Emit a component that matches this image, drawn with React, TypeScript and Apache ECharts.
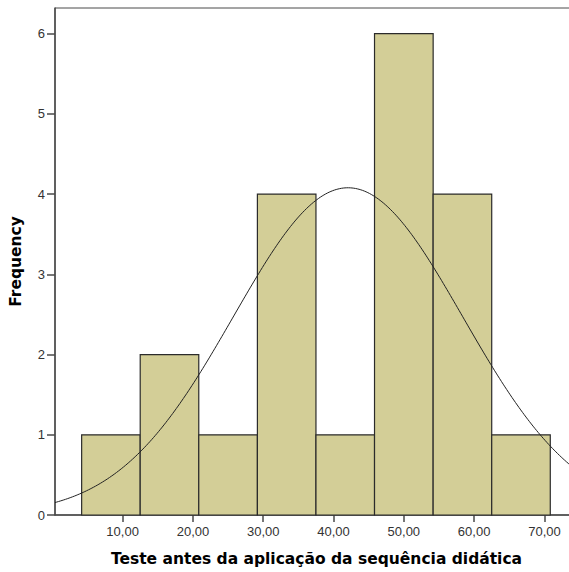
import React, { useEffect, useRef } from "react";
import * as echarts from "echarts";

// Histogram bins (lower and upper edges) and frequencies
const binStarts = [4.17, 12.5, 20.83, 29.17, 37.5, 45.83, 54.17, 62.5];
const binEnds = [12.5, 20.83, 29.17, 37.5, 45.83, 54.17, 62.5, 70.83];
const frequencies = [1, 2, 1, 4, 1, 6, 4, 1];

// Tick labels
const xTicks = [10, 20, 30, 40, 50, 60, 70];
const yTicks = [0, 1, 2, 3, 4, 5, 6];

// Fitted normal curve parameters (as shown by the curve)
const normalMean = 42.06;
const normalSd = 16.3;
const sampleN = 20;
const binWidth = 8.333;

const xName = "Teste antes da aplicação da sequência didática";
const yName = "Frequency";

export default function App() {
  const ref = useRef<HTMLDivElement>(null);
  useEffect(() => {
    if (!ref.current) return;
    const chart = echarts.init(ref.current, null, { renderer: "svg" });
    const xMin = 0.38;
    const xMax = 73.92;
    const curve: number[][] = [];
    const scale = (sampleN * binWidth) / (normalSd * Math.sqrt(2 * Math.PI));
    for (let x = xMin; x <= xMax + 1e-9; x += 0.25) {
      const z = (x - normalMean) / normalSd;
      curve.push([x, scale * Math.exp(-0.5 * z * z)]);
    }
    const barData = binStarts.map((s, i) => [s, binEnds[i], frequencies[i]]);
    const axisColor = "#4a4a4a";
    const labelStyle = { color: "#333", fontFamily: "Liberation Sans", fontSize: 13 };
    const nameStyle = { fontFamily: "DejaVu Sans", fontWeight: "bold", fontSize: 15.5, color: "#000" };
    chart.setOption({
      animation: false,
      backgroundColor: "#fff",
      grid: {
        left: 55,
        top: 8,
        right: -3,
        bottom: 57,
        outerBoundsMode: "none",
        containLabel: false,
        show: true,
        borderColor: axisColor,
        borderWidth: 1,
        backgroundColor: "#fff",
      },
      xAxis: {
        type: "value",
        min: xMin,
        max: xMax,
        name: xName,
        nameLocation: "middle",
        nameGap: 36,
        nameTextStyle: { ...nameStyle, padding: [0, 0, 0, 6] },
        axisLine: { show: true, lineStyle: { color: axisColor, width: 1.5 } },
        axisTick: { show: true, length: 7, customValues: xTicks, lineStyle: { color: axisColor, width: 1.5 } },
        axisLabel: {
          ...labelStyle,
          margin: 10,
          customValues: xTicks,
          formatter: (v: number) => v.toFixed(2).replace(".", ","),
        },
        splitLine: { show: false },
      },
      yAxis: {
        type: "value",
        min: 0,
        max: 6.32,
        name: yName,
        nameLocation: "middle",
        nameGap: 31,
        nameRotate: 90,
        nameTextStyle: nameStyle,
        axisLine: { show: true, lineStyle: { color: axisColor, width: 1.5 } },
        axisTick: { show: true, length: 8, customValues: yTicks, lineStyle: { color: axisColor, width: 1.5 } },
        axisLabel: { ...labelStyle, margin: 10, customValues: yTicks },
        splitLine: { show: false },
      },
      series: [
        {
          type: "custom",
          data: barData,
          encode: { x: [0, 1], y: 2 },
          renderItem: (params: any, api: any) => {
            const p0 = api.coord([api.value(0), api.value(2)]);
            const p1 = api.coord([api.value(1), 0]);
            return {
              type: "rect",
              shape: { x: p0[0], y: p0[1], width: p1[0] - p0[0], height: p1[1] - p0[1] },
              style: { fill: "#d3ce97", stroke: "#2b2b2b", lineWidth: 1.2 },
            };
          },
          z: 2,
        },
        {
          type: "line",
          data: curve,
          showSymbol: false,
          smooth: false,
          clip: true,
          lineStyle: { color: "#222", width: 1 },
          z: 3,
        },
      ],
    });
    return () => chart.dispose();
  }, []);
  return (
    <div
      ref={ref}
      style={{ position: "absolute", left: 0, top: 0, width: 569, height: 572 }}
    />
  );
}
